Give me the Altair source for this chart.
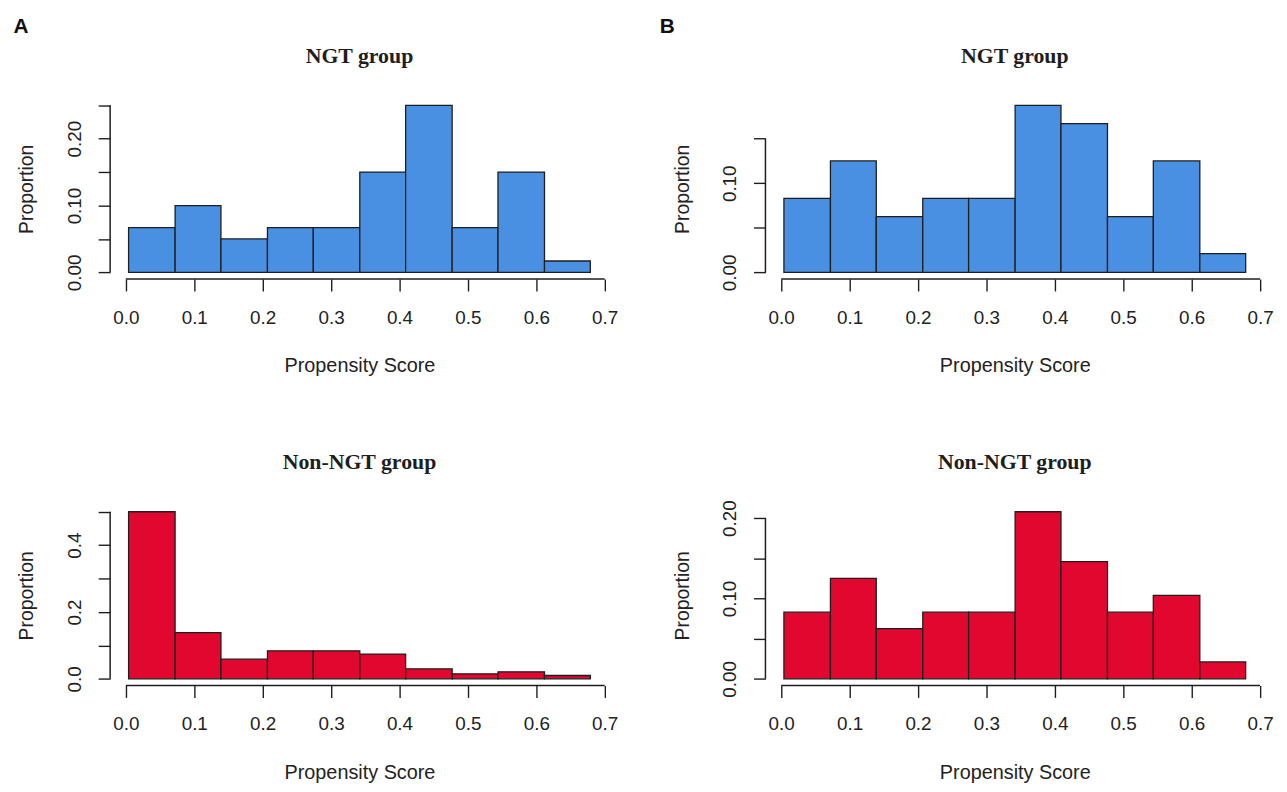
import json
import altair as alt
import pandas as pd

# ---- data ----
bin_edges = [0.004, 0.072, 0.139, 0.207, 0.274, 0.342, 0.409, 0.477, 0.544, 0.612, 0.679]

ngt_a = [0.067, 0.100, 0.050, 0.067, 0.067, 0.150, 0.250, 0.067, 0.150, 0.017]
non_ngt_a = [0.500, 0.138, 0.059, 0.084, 0.084, 0.074, 0.030, 0.015, 0.021, 0.010]
ngt_b = [0.083, 0.125, 0.0625, 0.083, 0.083, 0.1875, 0.167, 0.0625, 0.125, 0.021]
non_ngt_b = [0.083, 0.125, 0.0625, 0.083, 0.083, 0.208, 0.146, 0.083, 0.104, 0.021]

x_ticks = [0.0, 0.1, 0.2, 0.3, 0.4, 0.5, 0.6, 0.7]

y_ticks_a_top = [0.0, 0.05, 0.1, 0.15, 0.2, 0.25]
y_lab_a_top = [0.0, 0.1, 0.2]
y_ticks_b_top = [0.0, 0.05, 0.1, 0.15]
y_lab_b_top = [0.0, 0.1]
y_ticks_a_bot = [0.0, 0.1, 0.2, 0.3, 0.4, 0.5]
y_lab_a_bot = [0.0, 0.2, 0.4]
y_ticks_b_bot = [0.0, 0.05, 0.1, 0.15, 0.2]
y_lab_b_bot = [0.0, 0.1, 0.2]

BLUE = "#4A90E2"
RED = "#E2072F"
INK = "#1e1e1e"

W, H = 503, 182


def panel(values, color, title, y_ticks, y_labeled, y_fmt, title_offset=14):
    df = pd.DataFrame({"lo": bin_edges[:-1], "hi": bin_edges[1:], "p": values})
    lo, hi = bin_edges[0], bin_edges[-1]
    xr = hi - lo
    xdom = [lo - 0.04 * xr, hi + 0.04 * xr]
    ymax = max(values)
    ydom = [-0.04 * ymax, 1.04 * ymax]
    xs = alt.Scale(domain=xdom, nice=False, zero=False)
    ys = alt.Scale(domain=ydom, nice=False, zero=False)
    label_expr = "indexof(%s, datum.value) >= 0 ? format(datum.value, '%s') : ''" % (
        json.dumps(y_labeled), y_fmt)

    x_axis = alt.Axis(values=x_ticks, format=".1f", title="Propensity Score",
                      labelPadding=17.5, titlePadding=29)
    y_axis = alt.Axis(values=y_ticks, labelExpr=label_expr, title="Proportion",
                      labelAngle=270, labelAlign="center", labelBaseline="bottom",
                      labelPadding=14, titlePadding=29, titleFontSize=19.5)

    bars = alt.Chart(df).mark_rect(fill=color, stroke=INK, strokeWidth=1.3).encode(
        x=alt.X("lo:Q", scale=xs, axis=x_axis),
        x2="hi:Q",
        y=alt.Y("p:Q", scale=ys, axis=y_axis),
        y2=alt.datum(0),
    )

    xline_df = pd.DataFrame({"lo": [min(x_ticks)], "hi": [max(x_ticks)], "p": [ydom[0]]})
    xline = alt.Chart(xline_df).mark_rule(color=INK, strokeWidth=1.5).encode(
        x=alt.X("lo:Q", scale=xs, axis=x_axis), x2="hi:Q",
        y=alt.Y("p:Q", scale=ys, axis=y_axis))

    yline_df = pd.DataFrame({"lo": [xdom[0]], "p": [0.0], "p2": [max(y_ticks)]})
    yline = alt.Chart(yline_df).mark_rule(color=INK, strokeWidth=1.5).encode(
        x=alt.X("lo:Q", scale=xs, axis=x_axis),
        y=alt.Y("p:Q", scale=ys, axis=y_axis), y2="p2:Q")

    return alt.layer(bars, xline, yline).properties(
        width=W, height=H,
        title=alt.TitleParams(title, font="Liberation Serif", fontSize=22, fontWeight="bold",
                              anchor="middle", frame="group", baseline="alphabetic",
                              offset=title_offset, color=INK),
    )


def column(label, top, bottom, dx):
    return alt.vconcat(top, bottom, spacing=228, bounds="flush").properties(
        title=alt.TitleParams(label, font="Liberation Sans", fontSize=21, fontWeight="bold",
                              anchor="start", frame="bounds", baseline="alphabetic",
                              offset=-9, dx=dx, color="#111111"))


col_a = column("A",
               panel(ngt_a, BLUE, "NGT group", y_ticks_a_top, y_lab_a_top, ".2f"),
               panel(non_ngt_a, RED, "Non-NGT group", y_ticks_a_bot, y_lab_a_bot, ".1f"),
               dx=-3.5)
col_b = column("B",
               panel(ngt_b, BLUE, "NGT group", y_ticks_b_top, y_lab_b_top, ".2f"),
               panel(non_ngt_b, RED, "Non-NGT group", y_ticks_b_bot, y_lab_b_bot, ".2f",
                     title_offset=8.7),
               dx=-12.7)

chart = alt.hconcat(col_a, col_b, spacing=41).properties(
    padding={"left": 5, "top": 5, "right": 5, "bottom": 5}
).configure(background="white").configure_view(stroke=None).configure_axis(
    domain=False, grid=False, ticks=True, tickSize=12, tickWidth=1.4, tickColor=INK,
    labelFont="Liberation Sans", labelFontSize=19, labelColor="#222222",
    titleFont="Liberation Sans", titleFontSize=20, titleFontWeight="normal", titleColor="#222222",
)

chart.save("out.html", embed_options={"renderer": "svg", "actions": False})
